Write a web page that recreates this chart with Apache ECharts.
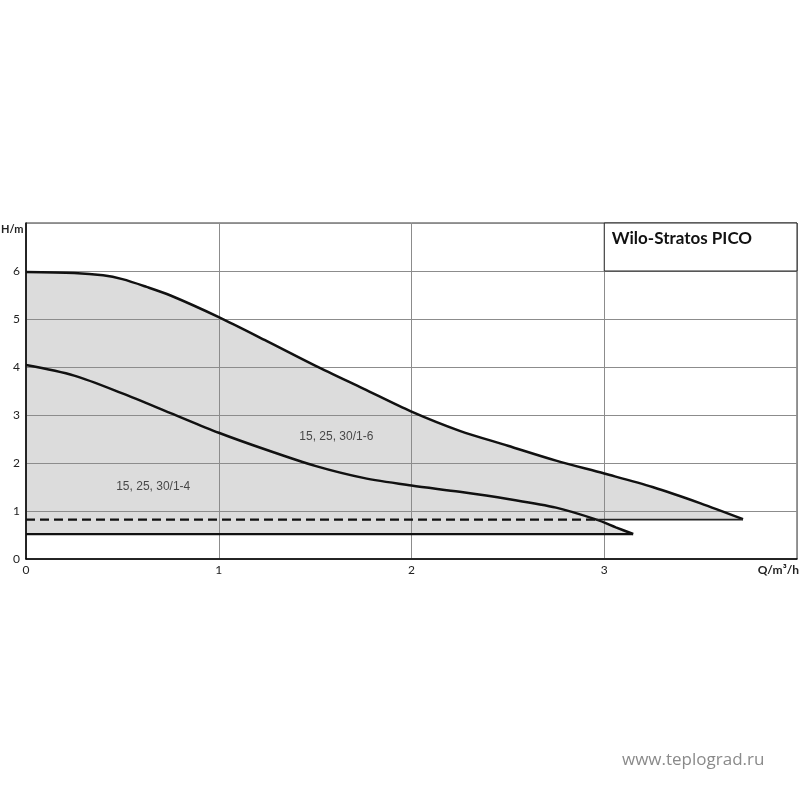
<!DOCTYPE html>
<html>
<head>
<meta charset="utf-8">
<script src="https://cdn.jsdelivr.net/npm/echarts@6/dist/echarts.min.js"></script>
<style>html,body{margin:0;padding:0;background:#fff}#c{width:800px;height:800px}</style>
</head>
<body>
<div id="c"></div>
<script>
// Pump curve 15, 25, 30/1-6 (Q m3/h, H m)
var upperQ = [0, 0.25, 0.4, 0.5, 0.625, 0.75, 1.0, 1.25, 1.5, 1.75, 2.0, 2.25, 2.5, 2.75, 3.0, 3.25, 3.5, 3.72];
var upperH = [5.98, 5.96, 5.91, 5.83, 5.67, 5.49, 5.04, 4.54, 4.03, 3.55, 3.07, 2.67, 2.36, 2.05, 1.78, 1.50, 1.16, 0.83];
// Pump curve 15, 25, 30/1-4
var lowerQ = [0, 0.25, 0.5, 0.75, 1.0, 1.25, 1.5, 1.75, 2.0, 2.25, 2.5, 2.75, 2.96, 3.06, 3.15];
var lowerH = [4.04, 3.82, 3.45, 3.04, 2.63, 2.27, 1.94, 1.69, 1.53, 1.40, 1.25, 1.07, 0.82, 0.66, 0.52];
// Minimum head lines
var minH16 = 0.82;       // dashed bottom of 1-6 region
var dashEndQ = 2.96;     // where dashed part ends
var minH14 = 0.52;       // solid bottom of 1-4 region
// Annotations
var labelTexts = ['15, 25, 30/1-6', '15, 25, 30/1-4'];
var labelQ = [1.61, 0.66];
var labelH = [2.55, 1.51];
var titleText = 'Wilo-Stratos PICO';
var titleBox = [[3, 7], [4, 6]];
var xTicks = [0, 1, 2, 3, 4];
var yTicks = [0, 1, 2, 3, 4, 5, 6, 7];

function pairs(xs, ys) { return xs.map(function (x, i) { return [x, ys[i]]; }); }
var upper = pairs(upperQ, upperH);
var lower = pairs(lowerQ, lowerH);
var fillColor = '#dcdcdc';
var font = 'Lato';
var sm = 0.3;

var chart = echarts.init(document.getElementById('c'), null, { renderer: 'canvas' });
chart.setOption({
  animation: false,
  backgroundColor: '#fff',
  grid: { left: 26, right: 3, top: 223, bottom: 241, show: true, borderColor: '#333', borderWidth: 1 },
  xAxis: {
    type: 'value', min: xTicks[0], max: xTicks[xTicks.length - 1], interval: 1, z: 2,
    axisLine: { show: true, lineStyle: { color: '#000', width: 1.5 } },
    axisTick: { show: false },
    splitLine: { show: true, lineStyle: { color: '#8c8c8c', width: 1 } },
    axisLabel: { margin: 5, color: '#222', fontSize: 12, fontFamily: font,
      formatter: function (v) { return v === xTicks[xTicks.length - 1] ? '' : String(v); } }
  },
  yAxis: {
    type: 'value', min: yTicks[0], max: yTicks[yTicks.length - 1], interval: 1, z: 2,
    axisLine: { show: true, lineStyle: { color: '#000', width: 1.5 } },
    axisTick: { show: false },
    splitLine: { show: true, lineStyle: { color: '#8c8c8c', width: 1 } },
    axisLabel: { margin: 6, color: '#222', fontSize: 12, fontFamily: font,
      formatter: function (v) { return v === yTicks[yTicks.length - 1] ? '' : String(v); } }
  },
  graphic: [
    { type: 'text', left: 1, top: 224, z: 10, style: { text: 'H/m', fontSize: 11, fontWeight: 'bold', fontFamily: font, fill: '#222' } },
    { type: 'text', right: 1, top: 564, z: 10, style: { text: 'Q/m³/h', fontSize: 12, fontWeight: 'bold', fontFamily: font, fill: '#222' } },
    { type: 'text', left: 622, top: 752, z: 10, style: { text: 'www.teplograd.ru', fontSize: 17, fontFamily: 'Open Sans', fill: '#8a8a8a' } }
  ],
  series: [
    { type: 'line', data: upper, smooth: sm, showSymbol: false, z: 1, silent: true,
      lineStyle: { width: 0, opacity: 0 }, areaStyle: { color: fillColor, opacity: 1, origin: minH16 } },
    { type: 'line', data: lower, smooth: sm, showSymbol: false, z: 1, silent: true,
      lineStyle: { width: 0, opacity: 0 }, areaStyle: { color: fillColor, opacity: 1, origin: minH14 } },
    { type: 'line', data: upper, smooth: sm, showSymbol: false, z: 3,
      lineStyle: { color: '#111', width: 2.5 } },
    { type: 'line', data: lower, smooth: sm, showSymbol: false, z: 3,
      lineStyle: { color: '#111', width: 2.5 } },
    { type: 'line', data: [[0, minH16], [dashEndQ, minH16]], showSymbol: false, z: 3,
      lineStyle: { color: '#111', width: 2.2, type: [9, 5] } },
    { type: 'line', data: [[dashEndQ, minH16], [upperQ[upperQ.length - 1], minH16]], showSymbol: false, z: 3,
      lineStyle: { color: '#222', width: 1.6 } },
    { type: 'line', data: [[0, minH14], [lowerQ[lowerQ.length - 1], minH14]], showSymbol: false, z: 3,
      lineStyle: { color: '#111', width: 2.2 },
      markArea: {
        silent: true, z: 4,
        itemStyle: { color: '#fff', borderColor: '#222', borderWidth: 1 },
        label: { show: true, position: 'insideTopLeft', distance: 8, formatter: titleText,
          fontSize: 17, fontWeight: 'bold', fontFamily: font, color: '#111' },
        data: [[{ coord: titleBox[0] }, { coord: titleBox[1] }]]
      } },
    { type: 'scatter', symbolSize: 0, z: 4, silent: true,
      data: labelTexts.map(function (t, i) { return { value: [labelQ[i], labelH[i]], name: t }; }),
      label: { show: true, position: 'inside', formatter: '{b}', fontSize: 12, fontFamily: 'Liberation Sans', color: '#222' } }
  ]
});
</script>
</body>
</html>
